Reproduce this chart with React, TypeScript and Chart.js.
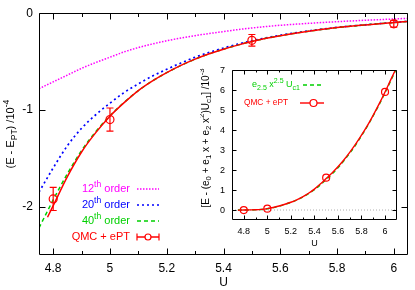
import React, { useEffect, useRef } from 'react';
import { Chart, registerables } from 'chart.js';
Chart.register(...registerables);

const FAMILY = '"Liberation Sans", Arial, Helvetica, sans-serif';

// ---------- main plot data ----------
const U_MAIN = [4.75, 4.8, 4.85, 4.9, 4.95, 5.0, 5.05, 5.1, 5.15, 5.2, 5.25, 5.3, 5.35, 5.4, 5.45, 5.5, 5.55, 5.6, 5.7, 5.8, 5.9, 6.0, 6.05];
const ORDER12 = [-0.78, -0.71, -0.64, -0.57, -0.51, -0.455, -0.40, -0.355, -0.318, -0.285, -0.257, -0.232, -0.21, -0.19, -0.17, -0.153, -0.138, -0.125, -0.105, -0.088, -0.073, -0.06, -0.053];
const ORDER20 = [-1.85, -1.6, -1.37, -1.19, -1.05, -0.93, -0.82, -0.73, -0.65, -0.58, -0.515, -0.455, -0.405, -0.36, -0.32, -0.285, -0.255, -0.228, -0.183, -0.147, -0.12, -0.095, -0.084];
const ORDER40 = [-2.22, -1.93, -1.66, -1.42, -1.225, -1.06, -0.922, -0.80, -0.70, -0.615, -0.54, -0.475, -0.42, -0.372, -0.33, -0.292, -0.26, -0.232, -0.186, -0.149, -0.121, -0.097, -0.086];
const U_FIT = [4.78, 4.8, 4.85, 4.9, 4.95, 5.0, 5.05, 5.1, 5.15, 5.2, 5.25, 5.3, 5.35, 5.4, 5.45, 5.5, 5.55, 5.6, 5.7, 5.8, 5.9, 6.0, 6.05];
const QMC_FIT = [-2.11, -1.99, -1.69, -1.435, -1.235, -1.065, -0.925, -0.80, -0.70, -0.615, -0.54, -0.475, -0.42, -0.372, -0.33, -0.292, -0.26, -0.232, -0.186, -0.149, -0.121, -0.097, -0.086];
const U_PTS = [4.8, 5.0, 5.5, 6.0];
const QMC_PTS = [-1.92, -1.10, -0.28, -0.11];
const QMC_ERR = [0.12, 0.12, 0.06, 0.035];

const MAIN_X_MAJOR = [4.8, 5.0, 5.2, 5.4, 5.6, 5.8, 6.0];
const MAIN_X_LABELS = ['4.8', '5', '5.2', '5.4', '5.6', '5.8', '6'];
const MAIN_X_MINOR = [4.9, 5.1, 5.3, 5.5, 5.7, 5.9];
const MAIN_Y_MAJOR = [0, -1, -2];
const MAIN_Y_LABELS = ['0', '-1', '-2'];

// ---------- inset data ----------
const U_IN = [4.75, 4.8, 4.85, 4.9, 4.95, 5.0, 5.05, 5.1, 5.15, 5.2, 5.25, 5.3, 5.35, 5.4, 5.45, 5.5, 5.55, 5.6, 5.65, 5.7, 5.75, 5.8, 5.85, 5.9, 5.95, 6.0, 6.05, 6.09];
const FIT25 = [0, 0, 0.005, 0.012, 0.03, 0.065, 0.12, 0.19, 0.28, 0.38, 0.5, 0.65, 0.82, 1.02, 1.26, 1.53, 1.81, 2.12, 2.47, 2.85, 3.26, 3.72, 4.2, 4.73, 5.28, 5.88, 6.5, 7.0];
const QMC_IN_LINE = [-0.01, 0, 0.006, 0.014, 0.033, 0.07, 0.125, 0.2, 0.29, 0.39, 0.51, 0.66, 0.84, 1.05, 1.3, 1.58, 1.86, 2.17, 2.51, 2.89, 3.3, 3.75, 4.23, 4.76, 5.32, 5.92, 6.55, 7.05];
const U_IN_PTS = [4.8, 5.0, 5.5, 6.0];
const QMC_IN_PTS = [0, 0.07, 1.62, 5.92];
const ZERO_X = [4.7, 6.1];
const ZERO_Y = [0, 0];

const IN_X_MAJOR = [4.8, 5.0, 5.2, 5.4, 5.6, 5.8, 6.0];
const IN_X_LABELS = ['4.8', '5', '5.2', '5.4', '5.6', '5.8', '6'];
const IN_X_MINOR = [4.9, 5.1, 5.3, 5.5, 5.7, 5.9];
const IN_Y_MAJOR = [0, 1, 2, 3, 4, 5, 6, 7];
const IN_Y_LABELS = ['0', '1', '2', '3', '4', '5', '6', '7'];

const RED = '#ff0000';
const GREEN = '#00d000';
const BLUE = '#0000ff';
const MAGENTA = '#ff00ff';

type Seg = { t: string; m?: 'sup' | 'sub' };

const MAIN_YTITLE: Seg[] = [{ t: '(E - E' }, { t: 'PT', m: 'sub' }, { t: ') /10' }, { t: '-4', m: 'sup' }];
const INSET_YTITLE: Seg[] = [
  { t: '[E - (e' }, { t: '0', m: 'sub' }, { t: ' + e' }, { t: '1', m: 'sub' }, { t: ' x + e' }, { t: '2', m: 'sub' },
  { t: ' x' }, { t: '2', m: 'sup' }, { t: ')U' }, { t: 'c1', m: 'sub' }, { t: '] /10' }, { t: '-3', m: 'sup' },
];
const MAIN_LEGEND = [
  { segs: [{ t: '12' }, { t: 'th', m: 'sup' }, { t: ' order' }] as Seg[], color: MAGENTA, dash: [1.5, 1.5], err: false },
  { segs: [{ t: '20' }, { t: 'th', m: 'sup' }, { t: ' order' }] as Seg[], color: BLUE, dash: [2, 3], err: false },
  { segs: [{ t: '40' }, { t: 'th', m: 'sup' }, { t: ' order' }] as Seg[], color: GREEN, dash: [4, 3], err: false },
  { segs: [{ t: 'QMC + ePT' }] as Seg[], color: RED, dash: [], err: true },
];
const INSET_LEGEND = [
  { segs: [{ t: 'e' }, { t: '2.5', m: 'sub' }, { t: ' x' }, { t: '2.5', m: 'sup' }, { t: ' U' }, { t: 'c1', m: 'sub' }] as Seg[], color: GREEN, dash: [4, 3], pt: false, right: 100, size: 9 },
  { segs: [{ t: 'QMC + ePT' }] as Seg[], color: RED, dash: [], pt: true, right: 88, size: 8.3 },
];

function segFont(size: number, m?: string) {
  return `${m ? size * 0.78 : size}px ${FAMILY}`;
}
function richWidth(ctx: CanvasRenderingContext2D, segs: Seg[], size: number) {
  let w = 0;
  for (const s of segs) {
    ctx.font = segFont(size, s.m);
    w += ctx.measureText(s.t).width;
  }
  return w;
}
function drawRich(ctx: CanvasRenderingContext2D, segs: Seg[], x: number, y: number, size: number, align: string, color: string) {
  const w = richWidth(ctx, segs, size);
  let cx = align === 'left' ? x : align === 'right' ? x - w : x - w / 2;
  ctx.fillStyle = color;
  ctx.textBaseline = 'middle';
  ctx.textAlign = 'left';
  for (const s of segs) {
    ctx.font = segFont(size, s.m);
    const dy = s.m === 'sup' ? -size * 0.4 : s.m === 'sub' ? size * 0.3 : 0;
    ctx.fillText(s.t, cx, y + dy);
    cx += ctx.measureText(s.t).width;
  }
}

const pts = (xs: number[], ys: number[]) => xs.map((x, i) => ({ x, y: ys[i] }));
const lineDs = (label: string, xs: number[], ys: number[], color: string, dash: number[], width: number) => ({
  label, data: pts(xs, ys), showLine: true, borderColor: color, backgroundColor: color,
  borderWidth: width, borderDash: dash, pointRadius: 0, cubicInterpolationMode: 'monotone', fill: false,
});

const framePlugin = {
  id: 'frame',
  afterDatasetsDraw(chart: any, _a: any, o: any) {
    const { ctx, chartArea: ca, scales } = chart;
    const sx = scales.x, sy = scales.y;
    ctx.save();
    ctx.strokeStyle = '#000';
    ctx.lineWidth = 1;
    ctx.setLineDash([]);
    const L = Math.round(ca.left) + 0.5, R = Math.round(ca.right) - 0.5;
    const T = Math.round(ca.top) + 0.5, B = Math.round(ca.bottom) - 0.5;
    ctx.beginPath();
    const vt = (v: number, len: number) => {
      const p = Math.round(sx.getPixelForValue(v)) + 0.5;
      ctx.moveTo(p, B); ctx.lineTo(p, B - len);
      ctx.moveTo(p, T); ctx.lineTo(p, T + len);
    };
    const ht = (v: number, len: number) => {
      const p = Math.round(sy.getPixelForValue(v)) + 0.5;
      ctx.moveTo(L, p); ctx.lineTo(L + len, p);
      ctx.moveTo(R, p); ctx.lineTo(R - len, p);
    };
    o.xMajor.forEach((v: number) => vt(v, o.major));
    o.xMinor.forEach((v: number) => vt(v, o.minor));
    o.yMajor.forEach((v: number) => ht(v, o.major));
    ctx.stroke();
    ctx.beginPath();
    ctx.rect(L, T, R - L, B - T);
    ctx.stroke();
    ctx.restore();
  },
};

const mainDecor = {
  id: 'mainDecor',
  afterDatasetsDraw(chart: any) {
    const { ctx, chartArea: ca, scales } = chart;
    const sx = scales.x, sy = scales.y;
    ctx.save();
    // error bars
    ctx.strokeStyle = RED;
    ctx.lineWidth = 1.2;
    ctx.setLineDash([]);
    ctx.beginPath();
    U_PTS.forEach((u, i) => {
      const px = sx.getPixelForValue(u);
      const y1 = sy.getPixelForValue(QMC_PTS[i] + QMC_ERR[i]);
      const y2 = sy.getPixelForValue(QMC_PTS[i] - QMC_ERR[i]);
      ctx.moveTo(px, y1); ctx.lineTo(px, y2);
      ctx.moveTo(px - 3.5, y1); ctx.lineTo(px + 3.5, y1);
      ctx.moveTo(px - 3.5, y2); ctx.lineTo(px + 3.5, y2);
    });
    ctx.stroke();
    // legend
    const textRight = ca.left + 91;
    const s0 = ca.left + 98, s1 = ca.left + 120;
    MAIN_LEGEND.forEach((e, i) => {
      const y = 189 + i * 16;
      drawRich(ctx, e.segs, textRight, y, 11, 'right', e.color);
      ctx.strokeStyle = e.color;
      ctx.lineWidth = 1.5;
      ctx.setLineDash(e.dash);
      ctx.beginPath();
      ctx.moveTo(s0, y); ctx.lineTo(s1, y);
      ctx.stroke();
      ctx.setLineDash([]);
      if (e.err) {
        ctx.lineWidth = 1.2;
        ctx.beginPath();
        ctx.moveTo(s0, y - 3.5); ctx.lineTo(s0, y + 3.5);
        ctx.moveTo(s1, y - 3.5); ctx.lineTo(s1, y + 3.5);
        ctx.stroke();
        ctx.beginPath();
        ctx.fillStyle = '#fff';
        ctx.arc((s0 + s1) / 2, y, 3, 0, Math.PI * 2);
        ctx.fill();
        ctx.stroke();
      }
    });
    // y title
    ctx.translate(11, (ca.top + ca.bottom) / 2);
    ctx.rotate(-Math.PI / 2);
    drawRich(ctx, MAIN_YTITLE, 0, 0, 11, 'center', '#000');
    ctx.restore();
  },
};

const insetDecor = {
  id: 'insetDecor',
  afterDatasetsDraw(chart: any) {
    const { ctx } = chart;
    ctx.save();
    const s0 = 103, s1 = 124;
    INSET_LEGEND.forEach((e, i) => {
      const y = 27 + i * 18;
      drawRich(ctx, e.segs, e.right, y, e.size, 'right', e.color);
      ctx.strokeStyle = e.color;
      ctx.lineWidth = 1.4;
      ctx.setLineDash(e.dash);
      ctx.beginPath();
      ctx.moveTo(e.pt ? 100 : s0, y); ctx.lineTo(s1, y);
      ctx.stroke();
      ctx.setLineDash([]);
      if (e.pt) {
        ctx.lineWidth = 1.2;
        ctx.beginPath();
        ctx.fillStyle = '#fff';
        ctx.arc(113.5, y, 3.5, 0, Math.PI * 2);
        ctx.fill();
        ctx.stroke();
      }
    });
    ctx.translate(6, 80);
    ctx.rotate(-Math.PI / 2);
    drawRich(ctx, INSET_YTITLE, 0, 0, 10, 'center', '#000');
    ctx.restore();
  },
};

function mainConfig(): any {
  return {
    type: 'scatter',
    data: {
      datasets: [
        {
          label: 'QMC + ePT points', data: pts(U_PTS, QMC_PTS), showLine: false, pointRadius: 4,
          pointBorderColor: RED, pointBackgroundColor: 'rgba(255,255,255,0)', pointBorderWidth: 1.2,
        },
        lineDs('QMC + ePT', U_FIT, QMC_FIT, RED, [], 1.5),
        lineDs('40th order', U_MAIN, ORDER40, GREEN, [4, 3], 1.5),
        lineDs('20th order', U_MAIN, ORDER20, BLUE, [2, 3], 1.7),
        lineDs('12th order', U_MAIN, ORDER12, MAGENTA, [1.5, 1.5], 1.5),
      ],
    },
    options: {
      responsive: false, animation: false, devicePixelRatio: 1,
      layout: { padding: { top: 11, right: 7, left: 0, bottom: 0 } },
      plugins: {
        legend: { display: false }, tooltip: { enabled: false },
        frame: { xMajor: MAIN_X_MAJOR, xMinor: MAIN_X_MINOR, yMajor: MAIN_Y_MAJOR, major: 6, minor: 3.5 },
      },
      scales: {
        x: {
          type: 'linear', min: 4.75, max: 6.05,
          grid: { display: false, drawTicks: false }, border: { display: false },
          afterBuildTicks: (s: any) => { s.ticks = MAIN_X_MAJOR.map((v) => ({ value: v })); },
          afterFit: (s: any) => { s.height = 35; },
          ticks: { color: '#000', font: { family: FAMILY, size: 12 }, padding: 6, maxRotation: 0, autoSkip: false,
            callback: (_v: any, i: number) => MAIN_X_LABELS[i] },
          title: { display: true, text: 'U', color: '#000', font: { family: FAMILY, size: 12 }, padding: { top: 0, bottom: 0 } },
        },
        y: {
          type: 'linear', min: -2.5, max: 0,
          grid: { display: false, drawTicks: false }, border: { display: false },
          afterBuildTicks: (s: any) => { s.ticks = MAIN_Y_MAJOR.map((v) => ({ value: v })); },
          afterFit: (s: any) => { s.width = 39; },
          ticks: { color: '#000', font: { family: FAMILY, size: 12 }, padding: 6, autoSkip: false,
            callback: (_v: any, i: number) => MAIN_Y_LABELS[i] },
        },
      },
    },
    plugins: [framePlugin, mainDecor],
  };
}

function insetConfig(): any {
  return {
    type: 'scatter',
    data: {
      datasets: [
        {
          label: 'QMC + ePT points', data: pts(U_IN_PTS, QMC_IN_PTS), showLine: false, pointRadius: 3.5,
          pointBorderColor: RED, pointBackgroundColor: 'rgba(255,255,255,0)', pointBorderWidth: 1.2,
        },
        lineDs('QMC + ePT', U_IN, QMC_IN_LINE, RED, [], 1.4),
        lineDs('e2.5 x2.5 Uc1', U_IN, FIT25, GREEN, [4, 3], 1.4),
        { ...lineDs('zero', ZERO_X, ZERO_Y, '#999999', [1, 2], 0.8), cubicInterpolationMode: 'default' },
      ],
    },
    options: {
      responsive: false, animation: false, devicePixelRatio: 1,
      layout: { padding: { top: 9, right: 5, left: 0, bottom: 0 } },
      plugins: {
        legend: { display: false }, tooltip: { enabled: false },
        frame: { xMajor: IN_X_MAJOR, xMinor: IN_X_MINOR, yMajor: IN_Y_MAJOR, major: 4, minor: 2 },
      },
      scales: {
        x: {
          type: 'linear', min: 4.7, max: 6.1,
          grid: { display: false, drawTicks: false }, border: { display: false },
          afterBuildTicks: (s: any) => { s.ticks = IN_X_MAJOR.map((v) => ({ value: v })); },
          afterFit: (s: any) => { s.height = 30; },
          ticks: { color: '#000', font: { family: FAMILY, size: 9 }, padding: 6, maxRotation: 0, autoSkip: false,
            callback: (_v: any, i: number) => IN_X_LABELS[i] },
          title: { display: true, text: 'U', color: '#000', font: { family: FAMILY, size: 9 }, padding: { top: 0, bottom: 1.5 } },
        },
        y: {
          type: 'linear', min: -0.5, max: 7,
          grid: { display: false, drawTicks: false }, border: { display: false },
          afterBuildTicks: (s: any) => { s.ticks = IN_Y_MAJOR.map((v) => ({ value: v })); },
          afterFit: (s: any) => { s.width = 32; },
          ticks: { color: '#000', font: { family: FAMILY, size: 9 }, padding: 7, autoSkip: false,
            callback: (_v: any, i: number) => IN_Y_LABELS[i] },
        },
      },
    },
    plugins: [framePlugin, insetDecor],
  };
}

export default function App() {
  const mainRef = useRef<HTMLCanvasElement>(null);
  const insetRef = useRef<HTMLCanvasElement>(null);
  useEffect(() => {
    const m = new Chart(mainRef.current as HTMLCanvasElement, mainConfig());
    const i = new Chart(insetRef.current as HTMLCanvasElement, insetConfig());
    return () => { m.destroy(); i.destroy(); };
  }, []);
  return (
    <div style={{ position: 'fixed', left: 0, top: 0, width: 415, height: 290, background: '#fff' }}>
      <canvas ref={mainRef} width={415} height={290} style={{ position: 'absolute', left: 0, top: 0, width: 415, height: 290 }} />
      <canvas ref={insetRef} width={202} height={192} style={{ position: 'absolute', left: 200, top: 58, width: 202, height: 192 }} />
    </div>
  );
}
